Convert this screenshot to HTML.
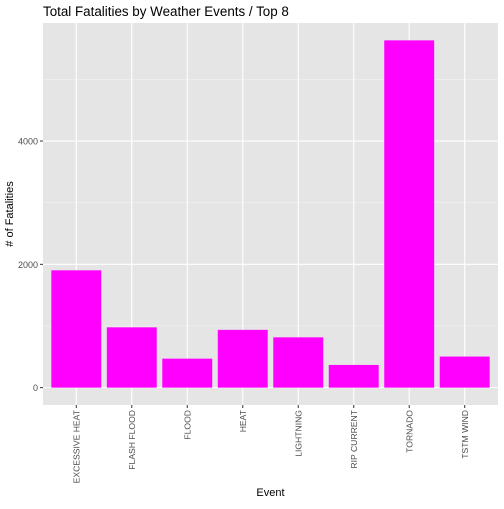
<!DOCTYPE html>
<html><head><style>
body{margin:0;background:#fff;font-family:"Liberation Sans",sans-serif}
</style></head><body>
<svg id="c" width="504" height="504" xmlns="http://www.w3.org/2000/svg"></svg>
<script>
const categories=["EXCESSIVE HEAT","FLASH FLOOD","FLOOD","HEAT","LIGHTNING","RIP CURRENT","TORNADO","TSTM WIND"];
const fatalities=[1903,978,470,937,816,368,5633,504];
const yTicks=[0,2000,4000];
const yMinor=[1000,3000,5000];
const NS="http://www.w3.org/2000/svg";
const svg=document.getElementById('c');
const L=43,R=498,T=23,B=405;
const maxV=Math.max(...fatalities);
const y0=-0.05*maxV,y1=maxV*1.05;
const y=v=>B-(v-y0)/(y1-y0)*(B-T);
const step=(R-L)/(categories.length-1+1.2);
const x=i=>L+step*(0.6+i);
function mk(t,a,p){const e=document.createElementNS(NS,t);for(const k in a)e.setAttribute(k,a[k]);(p||svg).appendChild(e);return e;}
const bg=mk('rect',{x:L,y:T,width:R-L,height:B-T,fill:'#e5e5e5'});


yMinor.forEach(v=>{const l=mk('line',{x1:L,x2:R,y1:y(v),y2:y(v),stroke:'#f2f2f2','stroke-width':0.6});

});
yTicks.forEach(v=>{const l=mk('line',{x1:L,x2:R,y1:y(v),y2:y(v),stroke:'#fff','stroke-width':1.1});


const tk=mk('line',{x1:L-3,x2:L,y1:y(v),y2:y(v),stroke:'#333','stroke-width':1});


const t=mk('text',{x:L-5,y:y(v)+3.5,'text-anchor':'end','font-size':9,fill:'#4d4d4d'});t.textContent=v;

});
categories.forEach((c,i)=>{const l=mk('line',{x1:x(i),x2:x(i),y1:T,y2:B,stroke:'#fff','stroke-width':1.1});

});
categories.forEach((c,i)=>{const w=step*0.9;
const r=mk('rect',{x:x(i)-w/2,y:y(fatalities[i]),width:w,height:y(0)-y(fatalities[i]),fill:'#ff00ff'});


const tk=mk('line',{x1:x(i),x2:x(i),y1:B,y2:B+3,stroke:'#333','stroke-width':1});


const t=mk('text',{x:0,y:0,'text-anchor':'end','font-size':8.6,fill:'#4d4d4d',transform:`translate(${x(i)+3.1},${B+5}) rotate(-90)`});t.textContent=c;

});
const ti=mk('text',{x:L,y:16,'font-size':13.4,fill:'#000'});ti.textContent='Total Fatalities by Weather Events / Top 8';


const xt=mk('text',{x:(L+R)/2,y:496,'text-anchor':'middle','font-size':11,fill:'#000'});xt.textContent='Event';


const yt=mk('text',{x:0,y:0,'text-anchor':'middle','font-size':11,fill:'#000',transform:`translate(13,${(T+B)/2}) rotate(-90)`});yt.textContent='# of Fatalities';


</script>
</body></html>
